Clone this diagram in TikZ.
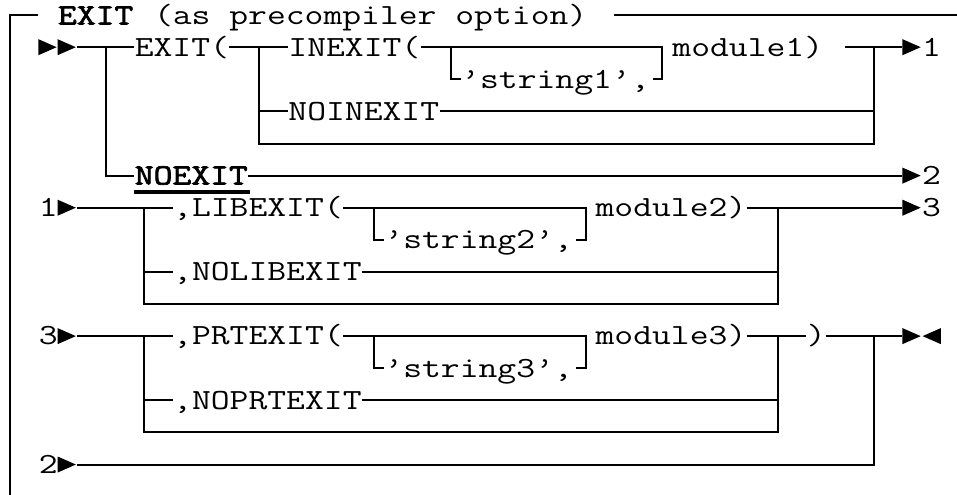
\documentclass[tikz,border=0pt]{standalone}
\usepackage{fontspec}
\newfontfamily\diamono[FakeStretch=1.25]{Latin Modern Mono}
\newfontfamily\diamonob[FakeStretch=1.25,FakeBold=2.5]{Latin Modern Mono}
\begin{document}
\begin{tikzpicture}[x=9.6pt,y=-16.05pt,
  txt/.style={font=\diamono\fontsize{14.63}{14.63}\selectfont, inner sep=0pt, anchor=base west},
  txtb/.style={font=\diamonob\fontsize{14.63}{14.63}\selectfont, inner sep=0pt, anchor=base west},
  ln/.style={line width=1pt, line join=miter},
  tri/.style={fill=black}]
\useasboundingbox (0,0.53) rectangle (49.84,15.92);
\newcommand\synR[2]{\fill[tri] (#1,#2-0.25) -- (#1+0.95,#2) -- (#1,#2+0.25) -- cycle;}
\newcommand\synL[2]{\fill[tri] (#1+1,#2-0.25) -- (#1+0.05,#2) -- (#1+1,#2+0.25) -- cycle;}
% ---------- title row
\node[txtb] (title) at (3,1.29) {EXIT};
\node[txt] (sub) at (8,1.29) {(as precompiler option)};
\coordinate (frame) at (0.5,1);
\draw[ln] (0.5,16) -- (frame) -- (2,1);
\draw[ln] (32,1) -- (50,1);
% ---------- row 2
\synR{2}{2}\synR{3}{2}
\node[txt] (exit) at (7,2.275) {EXIT(};
\node[txt] (inexit) at (15,2.275) {INEXIT(};
\node[txt] (mod1) at (35,2.275) {module1)};
\node[txt] (o1) at (48,2.275) {1};
\node[txt] (str1) at (24,3.275) {’string1’,};
\node[txt] (noin) at (15,4.275) {NOINEXIT};
\node[txtb] (noexit) at (7,6.275) {NOEXIT};
\node[txt] (o2) at (48,6.275) {2};
\coordinate (a1) at (5.5,2);
\coordinate (a2) at (13.5,2);
\coordinate (a3) at (23.5,2);
\coordinate (a4) at (34.5,2);
\coordinate (a5) at (45.5,2);
\draw[ln] (4,2) -- (exit.west |- 0,2);
\draw[ln] (a1) -- (5.5,6) -- (noexit.west |- 0,6);
\draw[ln] (exit.east |- 0,2) -- (inexit.west |- 0,2);
\draw[ln] (inexit.east |- 0,2) -- (a4) -- (34.5,3) -- (34,3);
\draw[ln] (a3) -- (23.5,3) -- (24,3);
\draw[ln] (44,2) -- (47,2);
\synR{47}{2}
\draw[ln] (a2) -- (13.5,5) -- (45.5,5) -- (a5);
\draw[ln] (13.5,4) -- (noin.west |- 0,4);
\draw[ln] (noin.east |- 0,4) -- (45.5,4);
\draw[ln, line width=1.9pt] (7,6.52) -- (13,6.52);
\draw[ln] (noexit.east |- 0,6) -- (47,6);
\synR{47}{6}
% ---------- LIBEXIT block
\node[txt] (i1) at (2,7.275) {1};
\synR{3}{7}
\node[txt] (lib) at (9,7.275) {,LIBEXIT(};
\node[txt] (str2) at (20,8.275) {’string2’,};
\node[txt] (mod2) at (31,7.275) {module2)};
\node[txt] (o3) at (48,7.275) {3};
\node[txt] (nolib) at (9,9.275) {,NOLIBEXIT};
\coordinate (b1) at (7.5,7);
\coordinate (b2) at (19.5,7);
\coordinate (b3) at (30.5,7);
\coordinate (b4) at (40.5,7);
\draw[ln] (4,7) -- (lib.west |- 0,7);
\draw[ln] (lib.east |- 0,7) -- (b3) -- (30.5,8) -- (30,8);
\draw[ln] (b2) -- (19.5,8) -- (20,8);
\draw[ln] (mod2.east |- 0,7) -- (47,7);
\synR{47}{7}
\draw[ln] (b1) -- (7.5,10) -- (40.5,10) -- (b4);
\draw[ln] (7.5,9) -- (nolib.west |- 0,9);
\draw[ln] (nolib.east |- 0,9) -- (40.5,9);
% ---------- PRTEXIT block
\node[txt] (i3) at (2,11.275) {3};
\synR{3}{11}
\node[txt] (prt) at (9,11.275) {,PRTEXIT(};
\node[txt] (str3) at (20,12.275) {’string3’,};
\node[txt] (mod3) at (31,11.275) {module3)};
\node[txt] (close) at (42,11.275) {)};
\node[txt] (noprt) at (9,13.275) {,NOPRTEXIT};
\coordinate (c1) at (7.5,11);
\coordinate (c2) at (19.5,11);
\coordinate (c3) at (30.5,11);
\coordinate (c4) at (40.5,11);
\coordinate (c5) at (45.5,11);
\draw[ln] (4,11) -- (prt.west |- 0,11);
\draw[ln] (prt.east |- 0,11) -- (c3) -- (30.5,12) -- (30,12);
\draw[ln] (c2) -- (19.5,12) -- (20,12);
\draw[ln] (mod3.east |- 0,11) -- (close.west |- 0,11);
\draw[ln] (43,11) -- (47,11);
\synR{47}{11}\synL{48}{11}
\draw[ln] (c1) -- (7.5,14) -- (40.5,14) -- (c4);
\draw[ln] (7.5,13) -- (noprt.west |- 0,13);
\draw[ln] (noprt.east |- 0,13) -- (40.5,13);
% ---------- row 15
\node[txt] (i2) at (2,15.275) {2};
\synR{3}{15}
\draw[ln] (4,15) -- (45.5,15) -- (c5);
\end{tikzpicture}
\end{document}
